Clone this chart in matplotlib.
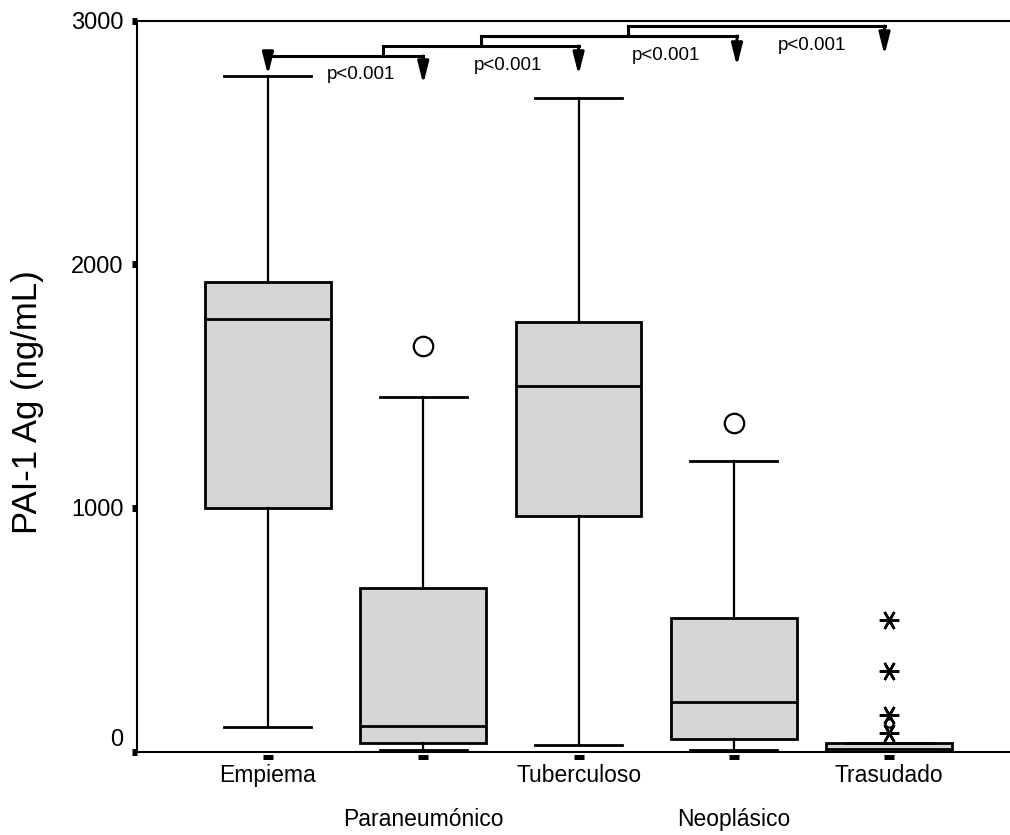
import matplotlib
matplotlib.use('Agg')
import matplotlib.pyplot as plt
import numpy as np

plt.rcParams['font.family'] = ['Liberation Sans', 'DejaVu Sans']

# box summary per group (ng/mL)
groups = ['Empiema', 'Paraneumónico', 'Tuberculoso', 'Neoplásico', 'Trasudado']
whislo = [100, 5, 27, 5, 0]
q1 = [1000, 33, 967, 53, 0]
med = [1776, 103, 1501, 205, 12]
q3 = [1926, 670, 1764, 547, 34]
whishi = [2774, 1456, 2684, 1193, 34]

# outliers (circles) and extremes (asterisks)
out_group = [2, 4, 5]
out_value = [1665, 1349, 117]
ext_group = [5, 5, 5, 5]
ext_value = [538, 329, 148, 74]

# comparison brackets
br_left = [1.0, 1.74, 2.37, 3.32]
br_right = [2.0, 3.0, 4.02, 4.97]
br_level = [2856, 2897, 2938, 2979]
br_tip = [2741, 2778, 2815, 2860]
first_tip = 2778
p_text = ['p<0.001', 'p<0.001', 'p<0.001', 'p<0.001']
p_x = [1.38, 2.327, 3.344, 4.284]
p_y = [2782, 2819, 2859, 2901]

pos = np.arange(1, len(groups) + 1)

fig = plt.figure(figsize=(10.1, 8.35), dpi=100)
ax = fig.add_axes([0.1356, 0.1, 0.8644, 0.8749])

stats = []
for i, g in enumerate(groups):
    stats.append(dict(label=g, whislo=whislo[i], q1=q1[i], med=med[i],
                      q3=q3[i], whishi=whishi[i], fliers=[]))

ax.bxp(stats, positions=pos, widths=0.81, capwidths=0.56, patch_artist=True,
       showfliers=False,
       boxprops=dict(facecolor='#d6d6d6', edgecolor='k', linewidth=2),
       medianprops=dict(color='k', linewidth=2),
       whiskerprops=dict(color='k', linewidth=1.6),
       capprops=dict(color='k', linewidth=2))

big = [v for g, v in zip(out_group, out_value) if g != 5]
big_x = [g for g in out_group if g != 5]
ax.plot(big_x, big, 'o', ms=14, mfc='white', mec='k', mew=1.6, ls='none')
small = [v for g, v in zip(out_group, out_value) if g == 5]
ax.plot([5] * len(small), small, 'o', ms=6, mfc='white', mec='k', mew=1.6, ls='none')
ax.plot(ext_group, ext_value, marker=(6, 2, 90), ms=14, mew=1.8, color='k', ls='none')

# brackets with arrows
def arrow_down(x, y0, y1):
    ax.annotate('', xy=(x, y1), xytext=(x, y0),
                arrowprops=dict(arrowstyle='-|>,head_length=1.3,head_width=0.33',
                                mutation_scale=10, lw=2.2, color='k',
                                shrinkA=0, shrinkB=0))

for i in range(len(br_left)):
    ax.plot([br_left[i], br_right[i]], [br_level[i], br_level[i]], color='k',
            lw=2.2, solid_capstyle='projecting')
    if i == 0:
        arrow_down(br_left[i], br_level[i], first_tip)
    else:
        ax.plot([br_left[i], br_left[i]], [br_level[i - 1], br_level[i]],
                color='k', lw=2.2, solid_capstyle='projecting')
    arrow_down(br_right[i], br_level[i], br_tip[i])
    ax.text(p_x[i], p_y[i], p_text[i], fontsize=13.5, ha='left', va='center')

ax.set_xlim(0.1565, 5.778)
ax.set_ylim(0, 3000)

for s in ['left', 'bottom', 'top']:
    ax.spines[s].set_linewidth(1.5)
ax.spines['right'].set_visible(False)

ax.set_yticks([0, 1000, 2000, 3000])
ax.set_yticklabels(['0', '1000', '2000', '3000'])
ax.tick_params(axis='y', direction='out', length=3.6, width=5, pad=6, labelsize=17)
ax.yaxis.get_major_ticks()[0].label1.set_va('bottom')

ax.set_xticks([])
ax.plot(pos, [-0.0082] * len(pos), marker='_', ms=6.5, mew=3.6, color='k',
        ls='none', transform=ax.get_xaxis_transform(), clip_on=False)
for i, g in enumerate(groups):
    dy = -9 if i % 2 == 0 else -40.7
    ax.annotate(g, xy=(pos[i], 0), xycoords=('data', 'axes fraction'),
                xytext=(0, dy), textcoords='offset points',
                ha='center', va='top', fontsize=16.5)

fig.text(28 / 1010, 1 - 402 / 835, 'PAI-1 Ag (ng/mL)', rotation=90,
         ha='center', va='center', fontsize=25)

fig.savefig('out.png', dpi=100)
